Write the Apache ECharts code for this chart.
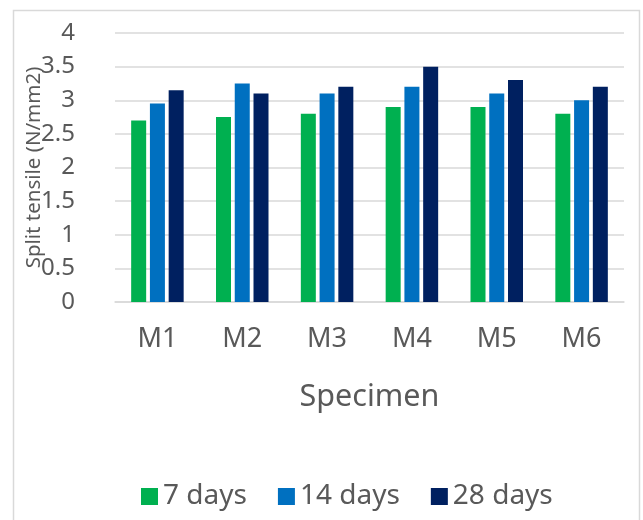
<!DOCTYPE html>
<html>
<head>
<meta charset="utf-8">
<script src="https://cdn.jsdelivr.net/npm/echarts@6/dist/echarts.min.js"></script>
<style>
  html, body { margin: 0; padding: 0; background: #ffffff; }
  #chart { width: 643px; height: 520px; }
</style>
</head>
<body>
<div id="chart"></div>
<script>
// Split tensile strength per mix at three curing ages
const specimens = ['M1', 'M2', 'M3', 'M4', 'M5', 'M6'];
const days7  = [2.7, 2.75, 2.8, 2.9, 2.9, 2.8];
const days14 = [2.95, 3.25, 3.1, 3.2, 3.1, 3.0];
const days28 = [3.15, 3.1, 3.2, 3.5, 3.3, 3.2];
const seriesNames = ['7 days', '14 days', '28 days'];
const seriesColors = ['#00B050', '#0070C0', '#002060'];

const FONT = '"Noto Sans", "Open Sans", sans-serif';
const TEXT = '#595959';
const chart = echarts.init(document.getElementById('chart'), null, { renderer: 'canvas' });

const values = [days7, days14, days28];

chart.setOption({
  animation: false,
  backgroundColor: '#ffffff',
  graphic: [{
    type: 'rect',
    shape: { x: 13.5, y: 10.5, width: 626, height: 520 },
    style: { fill: 'none', stroke: '#d9d9d9', lineWidth: 1.5 },
    silent: true,
    z: -1
  }],
  grid: { left: 115, right: 19, top: 33, bottom: 218 },
  legend: {
    data: seriesNames,
    left: 141,
    top: 481.5,
    padding: 0,
    itemWidth: 17,
    itemHeight: 17,
    itemGap: 31,
    icon: 'rect',
    textStyle: { fontFamily: FONT, fontSize: 28, lineHeight: 30, color: TEXT }
  },
  xAxis: {
    type: 'category',
    data: specimens,
    name: 'Specimen',
    nameLocation: 'middle',
    nameGap: 80,
    nameMoveOverlap: false,
    nameTextStyle: { fontFamily: FONT, fontSize: 30.5, color: TEXT },
    axisLine: { show: true, lineStyle: { color: '#d9d9d9', width: 1.5 } },
    axisTick: { show: false },
    axisLabel: { fontFamily: FONT, fontSize: 27, color: TEXT, margin: 24 }
  },
  yAxis: {
    type: 'value',
    min: 0,
    max: 4,
    interval: 0.5,
    name: 'Split tensile (N/mm2)',
    nameLocation: 'middle',
    nameGap: 70,
    nameMoveOverlap: false,
    nameTextStyle: { fontFamily: FONT, fontSize: 20.5, color: TEXT },
    axisLine: { show: false },
    axisTick: { show: false },
    splitLine: { lineStyle: { color: '#d9d9d9', width: 1.5 } },
    axisLabel: { fontFamily: FONT, fontSize: 24, color: TEXT, margin: 40 }
  },
  series: seriesNames.map((name, i) => ({
    name: name,
    type: 'bar',
    data: values[i],
    barWidth: 15,
    barGap: '25%',
    itemStyle: { color: seriesColors[i] }
  }))
});
</script>
</body>
</html>
